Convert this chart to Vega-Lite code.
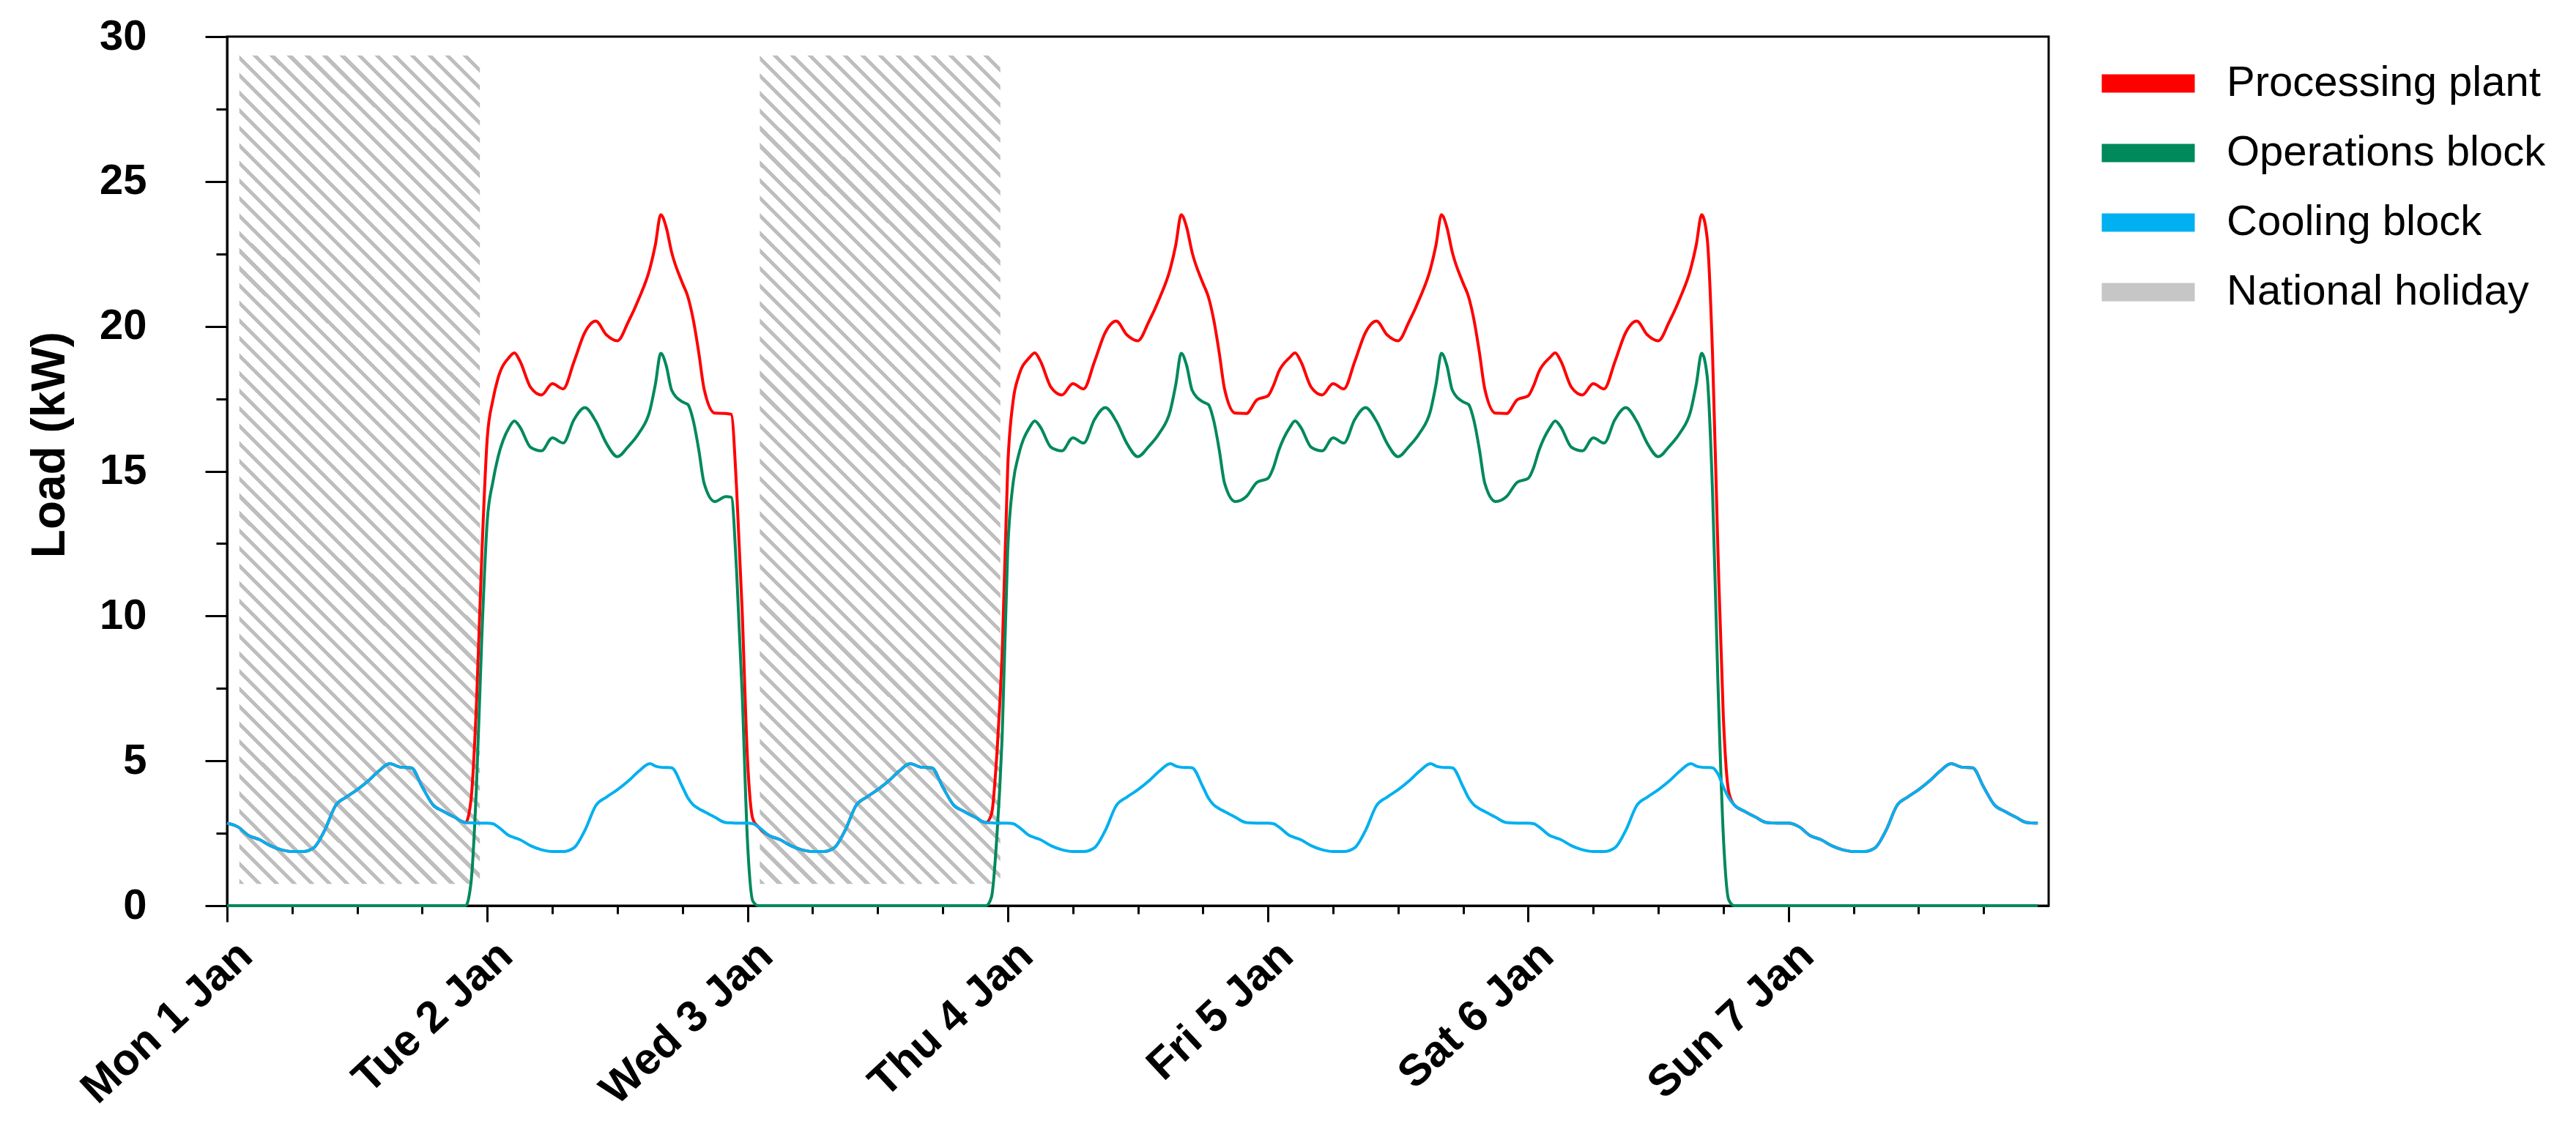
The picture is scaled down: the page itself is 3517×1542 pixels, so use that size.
{
  "$schema": "https://vega.github.io/schema/vega-lite/v6.json",
  "width": 2487,
  "height": 1187,
  "autosize": {"type": "none"},
  "padding": {"left": 310, "top": 50, "right": 720, "bottom": 305},
  "background": "white",
  "config": {
    "font": "Liberation Sans",
    "view": {"stroke": "black", "strokeWidth": 3},
    "axis": {
      "domainColor": "black",
      "domainWidth": 3,
      "tickColor": "black",
      "tickWidth": 3,
      "grid": false,
      "labelColor": "black",
      "titleColor": "black"
    }
  },
  "layer": [
    {
      "data": {
        "values": [
          {"start": "2018-01-01T01:08", "end": "2018-01-01T23:19", "lo": 0.75, "hi": 29.35},
          {"start": "2018-01-03T01:08", "end": "2018-01-03T23:19", "lo": 0.75, "hi": 29.35}
        ]
      },
      "mark": {
        "type": "rect",
        "fill": {
          "gradient": "linear",
          "x1": 0, "y1": 1, "x2": 0.3448, "y2": -0.1899,
          "stops": [
            {"offset":0,"color":"#bebebe"},{"offset":0.0049,"color":"#bebebe"},{"offset":0.0049,"color":"#ffffff"},{"offset":0.0164,"color":"#ffffff"},
            {"offset":0.0164,"color":"#bebebe"},{"offset":0.0213,"color":"#bebebe"},{"offset":0.0213,"color":"#ffffff"},{"offset":0.0328,"color":"#ffffff"},
            {"offset":0.0328,"color":"#bebebe"},{"offset":0.0377,"color":"#bebebe"},{"offset":0.0377,"color":"#ffffff"},{"offset":0.0492,"color":"#ffffff"},
            {"offset":0.0492,"color":"#bebebe"},{"offset":0.0541,"color":"#bebebe"},{"offset":0.0541,"color":"#ffffff"},{"offset":0.0656,"color":"#ffffff"},
            {"offset":0.0656,"color":"#bebebe"},{"offset":0.0705,"color":"#bebebe"},{"offset":0.0705,"color":"#ffffff"},{"offset":0.082,"color":"#ffffff"},
            {"offset":0.082,"color":"#bebebe"},{"offset":0.0869,"color":"#bebebe"},{"offset":0.0869,"color":"#ffffff"},{"offset":0.0984,"color":"#ffffff"},
            {"offset":0.0984,"color":"#bebebe"},{"offset":0.1033,"color":"#bebebe"},{"offset":0.1033,"color":"#ffffff"},{"offset":0.1148,"color":"#ffffff"},
            {"offset":0.1148,"color":"#bebebe"},{"offset":0.1197,"color":"#bebebe"},{"offset":0.1197,"color":"#ffffff"},{"offset":0.1311,"color":"#ffffff"},
            {"offset":0.1311,"color":"#bebebe"},{"offset":0.136,"color":"#bebebe"},{"offset":0.136,"color":"#ffffff"},{"offset":0.1475,"color":"#ffffff"},
            {"offset":0.1475,"color":"#bebebe"},{"offset":0.1524,"color":"#bebebe"},{"offset":0.1524,"color":"#ffffff"},{"offset":0.1639,"color":"#ffffff"},
            {"offset":0.1639,"color":"#bebebe"},{"offset":0.1688,"color":"#bebebe"},{"offset":0.1688,"color":"#ffffff"},{"offset":0.1803,"color":"#ffffff"},
            {"offset":0.1803,"color":"#bebebe"},{"offset":0.1852,"color":"#bebebe"},{"offset":0.1852,"color":"#ffffff"},{"offset":0.1967,"color":"#ffffff"},
            {"offset":0.1967,"color":"#bebebe"},{"offset":0.2016,"color":"#bebebe"},{"offset":0.2016,"color":"#ffffff"},{"offset":0.2131,"color":"#ffffff"},
            {"offset":0.2131,"color":"#bebebe"},{"offset":0.218,"color":"#bebebe"},{"offset":0.218,"color":"#ffffff"},{"offset":0.2295,"color":"#ffffff"},
            {"offset":0.2295,"color":"#bebebe"},{"offset":0.2344,"color":"#bebebe"},{"offset":0.2344,"color":"#ffffff"},{"offset":0.2459,"color":"#ffffff"},
            {"offset":0.2459,"color":"#bebebe"},{"offset":0.2508,"color":"#bebebe"},{"offset":0.2508,"color":"#ffffff"},{"offset":0.2623,"color":"#ffffff"},
            {"offset":0.2623,"color":"#bebebe"},{"offset":0.2672,"color":"#bebebe"},{"offset":0.2672,"color":"#ffffff"},{"offset":0.2787,"color":"#ffffff"},
            {"offset":0.2787,"color":"#bebebe"},{"offset":0.2836,"color":"#bebebe"},{"offset":0.2836,"color":"#ffffff"},{"offset":0.2951,"color":"#ffffff"},
            {"offset":0.2951,"color":"#bebebe"},{"offset":0.3,"color":"#bebebe"},{"offset":0.3,"color":"#ffffff"},{"offset":0.3115,"color":"#ffffff"},
            {"offset":0.3115,"color":"#bebebe"},{"offset":0.3164,"color":"#bebebe"},{"offset":0.3164,"color":"#ffffff"},{"offset":0.3279,"color":"#ffffff"},
            {"offset":0.3279,"color":"#bebebe"},{"offset":0.3328,"color":"#bebebe"},{"offset":0.3328,"color":"#ffffff"},{"offset":0.3443,"color":"#ffffff"},
            {"offset":0.3443,"color":"#bebebe"},{"offset":0.3492,"color":"#bebebe"},{"offset":0.3492,"color":"#ffffff"},{"offset":0.3607,"color":"#ffffff"},
            {"offset":0.3607,"color":"#bebebe"},{"offset":0.3656,"color":"#bebebe"},{"offset":0.3656,"color":"#ffffff"},{"offset":0.377,"color":"#ffffff"},
            {"offset":0.377,"color":"#bebebe"},{"offset":0.3819,"color":"#bebebe"},{"offset":0.3819,"color":"#ffffff"},{"offset":0.3934,"color":"#ffffff"},
            {"offset":0.3934,"color":"#bebebe"},{"offset":0.3983,"color":"#bebebe"},{"offset":0.3983,"color":"#ffffff"},{"offset":0.4098,"color":"#ffffff"},
            {"offset":0.4098,"color":"#bebebe"},{"offset":0.4147,"color":"#bebebe"},{"offset":0.4147,"color":"#ffffff"},{"offset":0.4262,"color":"#ffffff"},
            {"offset":0.4262,"color":"#bebebe"},{"offset":0.4311,"color":"#bebebe"},{"offset":0.4311,"color":"#ffffff"},{"offset":0.4426,"color":"#ffffff"},
            {"offset":0.4426,"color":"#bebebe"},{"offset":0.4475,"color":"#bebebe"},{"offset":0.4475,"color":"#ffffff"},{"offset":0.459,"color":"#ffffff"},
            {"offset":0.459,"color":"#bebebe"},{"offset":0.4639,"color":"#bebebe"},{"offset":0.4639,"color":"#ffffff"},{"offset":0.4754,"color":"#ffffff"},
            {"offset":0.4754,"color":"#bebebe"},{"offset":0.4803,"color":"#bebebe"},{"offset":0.4803,"color":"#ffffff"},{"offset":0.4918,"color":"#ffffff"},
            {"offset":0.4918,"color":"#bebebe"},{"offset":0.4967,"color":"#bebebe"},{"offset":0.4967,"color":"#ffffff"},{"offset":0.5082,"color":"#ffffff"},
            {"offset":0.5082,"color":"#bebebe"},{"offset":0.5131,"color":"#bebebe"},{"offset":0.5131,"color":"#ffffff"},{"offset":0.5246,"color":"#ffffff"},
            {"offset":0.5246,"color":"#bebebe"},{"offset":0.5295,"color":"#bebebe"},{"offset":0.5295,"color":"#ffffff"},{"offset":0.541,"color":"#ffffff"},
            {"offset":0.541,"color":"#bebebe"},{"offset":0.5459,"color":"#bebebe"},{"offset":0.5459,"color":"#ffffff"},{"offset":0.5574,"color":"#ffffff"},
            {"offset":0.5574,"color":"#bebebe"},{"offset":0.5623,"color":"#bebebe"},{"offset":0.5623,"color":"#ffffff"},{"offset":0.5738,"color":"#ffffff"},
            {"offset":0.5738,"color":"#bebebe"},{"offset":0.5787,"color":"#bebebe"},{"offset":0.5787,"color":"#ffffff"},{"offset":0.5902,"color":"#ffffff"},
            {"offset":0.5902,"color":"#bebebe"},{"offset":0.5951,"color":"#bebebe"},{"offset":0.5951,"color":"#ffffff"},{"offset":0.6066,"color":"#ffffff"},
            {"offset":0.6066,"color":"#bebebe"},{"offset":0.6115,"color":"#bebebe"},{"offset":0.6115,"color":"#ffffff"},{"offset":0.623,"color":"#ffffff"},
            {"offset":0.623,"color":"#bebebe"},{"offset":0.6279,"color":"#bebebe"},{"offset":0.6279,"color":"#ffffff"},{"offset":0.6393,"color":"#ffffff"},
            {"offset":0.6393,"color":"#bebebe"},{"offset":0.6442,"color":"#bebebe"},{"offset":0.6442,"color":"#ffffff"},{"offset":0.6557,"color":"#ffffff"},
            {"offset":0.6557,"color":"#bebebe"},{"offset":0.6606,"color":"#bebebe"},{"offset":0.6606,"color":"#ffffff"},{"offset":0.6721,"color":"#ffffff"},
            {"offset":0.6721,"color":"#bebebe"},{"offset":0.677,"color":"#bebebe"},{"offset":0.677,"color":"#ffffff"},{"offset":0.6885,"color":"#ffffff"},
            {"offset":0.6885,"color":"#bebebe"},{"offset":0.6934,"color":"#bebebe"},{"offset":0.6934,"color":"#ffffff"},{"offset":0.7049,"color":"#ffffff"},
            {"offset":0.7049,"color":"#bebebe"},{"offset":0.7098,"color":"#bebebe"},{"offset":0.7098,"color":"#ffffff"},{"offset":0.7213,"color":"#ffffff"},
            {"offset":0.7213,"color":"#bebebe"},{"offset":0.7262,"color":"#bebebe"},{"offset":0.7262,"color":"#ffffff"},{"offset":0.7377,"color":"#ffffff"},
            {"offset":0.7377,"color":"#bebebe"},{"offset":0.7426,"color":"#bebebe"},{"offset":0.7426,"color":"#ffffff"},{"offset":0.7541,"color":"#ffffff"},
            {"offset":0.7541,"color":"#bebebe"},{"offset":0.759,"color":"#bebebe"},{"offset":0.759,"color":"#ffffff"},{"offset":0.7705,"color":"#ffffff"},
            {"offset":0.7705,"color":"#bebebe"},{"offset":0.7754,"color":"#bebebe"},{"offset":0.7754,"color":"#ffffff"},{"offset":0.7869,"color":"#ffffff"},
            {"offset":0.7869,"color":"#bebebe"},{"offset":0.7918,"color":"#bebebe"},{"offset":0.7918,"color":"#ffffff"},{"offset":0.8033,"color":"#ffffff"},
            {"offset":0.8033,"color":"#bebebe"},{"offset":0.8082,"color":"#bebebe"},{"offset":0.8082,"color":"#ffffff"},{"offset":0.8197,"color":"#ffffff"},
            {"offset":0.8197,"color":"#bebebe"},{"offset":0.8246,"color":"#bebebe"},{"offset":0.8246,"color":"#ffffff"},{"offset":0.8361,"color":"#ffffff"},
            {"offset":0.8361,"color":"#bebebe"},{"offset":0.841,"color":"#bebebe"},{"offset":0.841,"color":"#ffffff"},{"offset":0.8525,"color":"#ffffff"},
            {"offset":0.8525,"color":"#bebebe"},{"offset":0.8574,"color":"#bebebe"},{"offset":0.8574,"color":"#ffffff"},{"offset":0.8689,"color":"#ffffff"},
            {"offset":0.8689,"color":"#bebebe"},{"offset":0.8738,"color":"#bebebe"},{"offset":0.8738,"color":"#ffffff"},{"offset":0.8852,"color":"#ffffff"},
            {"offset":0.8852,"color":"#bebebe"},{"offset":0.8901,"color":"#bebebe"},{"offset":0.8901,"color":"#ffffff"},{"offset":0.9016,"color":"#ffffff"},
            {"offset":0.9016,"color":"#bebebe"},{"offset":0.9065,"color":"#bebebe"},{"offset":0.9065,"color":"#ffffff"},{"offset":0.918,"color":"#ffffff"},
            {"offset":0.918,"color":"#bebebe"},{"offset":0.9229,"color":"#bebebe"},{"offset":0.9229,"color":"#ffffff"},{"offset":0.9344,"color":"#ffffff"},
            {"offset":0.9344,"color":"#bebebe"},{"offset":0.9393,"color":"#bebebe"},{"offset":0.9393,"color":"#ffffff"},{"offset":0.9508,"color":"#ffffff"},
            {"offset":0.9508,"color":"#bebebe"},{"offset":0.9557,"color":"#bebebe"},{"offset":0.9557,"color":"#ffffff"},{"offset":0.9672,"color":"#ffffff"},
            {"offset":0.9672,"color":"#bebebe"},{"offset":0.9721,"color":"#bebebe"},{"offset":0.9721,"color":"#ffffff"},{"offset":0.9836,"color":"#ffffff"},
            {"offset":0.9836,"color":"#bebebe"},{"offset":0.9885,"color":"#bebebe"},{"offset":0.9885,"color":"#ffffff"},{"offset":1,"color":"#ffffff"}
          ]
        }
      },
      "encoding": {
        "x": {
          "field": "start",
          "type": "temporal",
          "title": null,
          "scale": {"domain": [{"year": 2018, "month": 1, "date": 1}, {"year": 2018, "month": 1, "date": 8}]},
          "axis": {
            "orient": "bottom",
            "values": [
              {"year": 2018, "month": 1, "date": 1, "hours": 6}, {"year": 2018, "month": 1, "date": 1, "hours": 12}, {"year": 2018, "month": 1, "date": 1, "hours": 18},
              {"year": 2018, "month": 1, "date": 2, "hours": 6}, {"year": 2018, "month": 1, "date": 2, "hours": 12}, {"year": 2018, "month": 1, "date": 2, "hours": 18},
              {"year": 2018, "month": 1, "date": 3, "hours": 6}, {"year": 2018, "month": 1, "date": 3, "hours": 12}, {"year": 2018, "month": 1, "date": 3, "hours": 18},
              {"year": 2018, "month": 1, "date": 4, "hours": 6}, {"year": 2018, "month": 1, "date": 4, "hours": 12}, {"year": 2018, "month": 1, "date": 4, "hours": 18},
              {"year": 2018, "month": 1, "date": 5, "hours": 6}, {"year": 2018, "month": 1, "date": 5, "hours": 12}, {"year": 2018, "month": 1, "date": 5, "hours": 18},
              {"year": 2018, "month": 1, "date": 6, "hours": 6}, {"year": 2018, "month": 1, "date": 6, "hours": 12}, {"year": 2018, "month": 1, "date": 6, "hours": 18},
              {"year": 2018, "month": 1, "date": 7, "hours": 6}, {"year": 2018, "month": 1, "date": 7, "hours": 12}, {"year": 2018, "month": 1, "date": 7, "hours": 18}
            ],
            "labels": false,
            "domain": false,
            "tickSize": 11,
            "title": null,
            "grid": false
          }
        },
        "x2": {"field": "end"},
        "y": {
          "field": "lo",
          "type": "quantitative",
          "title": null,
          "scale": {"domain": [0, 30], "nice": false},
          "axis": {"orient": "left", "values": [2.5, 7.5, 12.5, 17.5, 22.5, 27.5], "labels": false, "domain": false, "tickSize": 15, "title": null, "grid": false}
        },
        "y2": {"field": "hi"}
      }
    },
    {
      "data": {
        "values": [
          {"t":"2018-01-01T00:00","plant":2.85,"ops":0,"cool":2.85},
          {"t":"2018-01-01T01:00","plant":2.72,"ops":0,"cool":2.72},
          {"t":"2018-01-01T02:00","plant":2.42,"ops":0,"cool":2.42},
          {"t":"2018-01-01T03:00","plant":2.28,"ops":0,"cool":2.28},
          {"t":"2018-01-01T04:00","plant":2.07,"ops":0,"cool":2.07},
          {"t":"2018-01-01T05:00","plant":1.93,"ops":0,"cool":1.93},
          {"t":"2018-01-01T06:00","plant":1.87,"ops":0,"cool":1.87},
          {"t":"2018-01-01T07:00","plant":1.87,"ops":0,"cool":1.87},
          {"t":"2018-01-01T08:00","plant":2.0,"ops":0,"cool":2.0},
          {"t":"2018-01-01T09:00","plant":2.6,"ops":0,"cool":2.6},
          {"t":"2018-01-01T10:00","plant":3.45,"ops":0,"cool":3.45},
          {"t":"2018-01-01T11:00","plant":3.75,"ops":0,"cool":3.75},
          {"t":"2018-01-01T12:00","plant":4.0,"ops":0,"cool":4.0},
          {"t":"2018-01-01T13:00","plant":4.3,"ops":0,"cool":4.3},
          {"t":"2018-01-01T14:00","plant":4.65,"ops":0,"cool":4.65},
          {"t":"2018-01-01T15:00","plant":4.9,"ops":0,"cool":4.9},
          {"t":"2018-01-01T16:00","plant":4.78,"ops":0,"cool":4.78},
          {"t":"2018-01-01T17:00","plant":4.76,"ops":0,"cool":4.76},
          {"t":"2018-01-01T18:00","plant":4.1,"ops":0,"cool":4.1},
          {"t":"2018-01-01T19:00","plant":3.48,"ops":0,"cool":3.48},
          {"t":"2018-01-01T20:00","plant":3.25,"ops":0,"cool":3.25},
          {"t":"2018-01-01T21:00","plant":3.05,"ops":0,"cool":3.05},
          {"t":"2018-01-01T22:00","plant":2.87,"ops":0,"cool":2.87},
          {"t":"2018-01-01T22:30","plant":3.66,"ops":0.8,"cool":2.86},
          {"t":"2018-01-01T23:00","plant":6.95,"ops":4.1,"cool":2.85},
          {"t":"2018-01-01T23:30","plant":12.15,"ops":9.3,"cool":2.85},
          {"t":"2018-01-02T00:00","plant":16.15,"ops":13.3,"cool":2.85},
          {"t":"2018-01-02T00:30","plant":17.43,"ops":14.6,"cool":2.83},
          {"t":"2018-01-02T01:00","plant":18.22,"ops":15.5,"cool":2.72},
          {"t":"2018-01-02T02:00","plant":18.92,"ops":16.5,"cool":2.42},
          {"t":"2018-01-02T02:30","plant":19.08,"ops":16.73,"cool":2.35},
          {"t":"2018-01-02T03:00","plant":18.81,"ops":16.53,"cool":2.28},
          {"t":"2018-01-02T04:00","plant":17.89,"ops":15.82,"cool":2.07},
          {"t":"2018-01-02T05:00","plant":17.63,"ops":15.7,"cool":1.93},
          {"t":"2018-01-02T06:00","plant":18.02,"ops":16.15,"cool":1.87},
          {"t":"2018-01-02T07:00","plant":17.84,"ops":15.97,"cool":1.87},
          {"t":"2018-01-02T08:00","plant":18.78,"ops":16.78,"cool":2.0},
          {"t":"2018-01-02T09:00","plant":19.79,"ops":17.19,"cool":2.6},
          {"t":"2018-01-02T10:00","plant":20.18,"ops":16.73,"cool":3.45},
          {"t":"2018-01-02T11:00","plant":19.7,"ops":15.95,"cool":3.75},
          {"t":"2018-01-02T12:00","plant":19.5,"ops":15.5,"cool":4.0},
          {"t":"2018-01-02T13:00","plant":20.15,"ops":15.85,"cool":4.3},
          {"t":"2018-01-02T14:00","plant":20.97,"ops":16.32,"cool":4.65},
          {"t":"2018-01-02T15:00","plant":22.0,"ops":17.1,"cool":4.9},
          {"t":"2018-01-02T15:30","plant":22.81,"ops":17.99,"cool":4.82},
          {"t":"2018-01-02T16:00","plant":23.85,"ops":19.07,"cool":4.78},
          {"t":"2018-01-02T16:30","plant":23.42,"ops":18.65,"cool":4.77},
          {"t":"2018-01-02T17:00","plant":22.56,"ops":17.8,"cool":4.76},
          {"t":"2018-01-02T18:00","plant":21.49,"ops":17.39,"cool":4.1},
          {"t":"2018-01-02T18:30","plant":21.02,"ops":17.3,"cool":3.72},
          {"t":"2018-01-02T19:00","plant":20.22,"ops":16.74,"cool":3.48},
          {"t":"2018-01-02T19:30","plant":19.1,"ops":15.75,"cool":3.35},
          {"t":"2018-01-02T20:00","plant":17.83,"ops":14.58,"cool":3.25},
          {"t":"2018-01-02T21:00","plant":17.0,"ops":13.95,"cool":3.05},
          {"t":"2018-01-02T22:00","plant":16.99,"ops":14.12,"cool":2.87},
          {"t":"2018-01-02T22:30","plant":16.96,"ops":14.1,"cool":2.86},
          {"t":"2018-01-02T23:00","plant":14.35,"ops":11.5,"cool":2.85},
          {"t":"2018-01-02T23:30","plant":10.25,"ops":7.4,"cool":2.85},
          {"t":"2018-01-03T00:00","plant":5.05,"ops":2.2,"cool":2.85},
          {"t":"2018-01-03T00:30","plant":2.98,"ops":0.15,"cool":2.83},
          {"t":"2018-01-03T01:00","plant":2.72,"ops":0,"cool":2.72},
          {"t":"2018-01-03T02:00","plant":2.42,"ops":0,"cool":2.42},
          {"t":"2018-01-03T03:00","plant":2.28,"ops":0,"cool":2.28},
          {"t":"2018-01-03T04:00","plant":2.07,"ops":0,"cool":2.07},
          {"t":"2018-01-03T05:00","plant":1.93,"ops":0,"cool":1.93},
          {"t":"2018-01-03T06:00","plant":1.87,"ops":0,"cool":1.87},
          {"t":"2018-01-03T07:00","plant":1.87,"ops":0,"cool":1.87},
          {"t":"2018-01-03T08:00","plant":2.0,"ops":0,"cool":2.0},
          {"t":"2018-01-03T09:00","plant":2.6,"ops":0,"cool":2.6},
          {"t":"2018-01-03T10:00","plant":3.45,"ops":0,"cool":3.45},
          {"t":"2018-01-03T11:00","plant":3.75,"ops":0,"cool":3.75},
          {"t":"2018-01-03T12:00","plant":4.0,"ops":0,"cool":4.0},
          {"t":"2018-01-03T13:00","plant":4.3,"ops":0,"cool":4.3},
          {"t":"2018-01-03T14:00","plant":4.65,"ops":0,"cool":4.65},
          {"t":"2018-01-03T15:00","plant":4.9,"ops":0,"cool":4.9},
          {"t":"2018-01-03T16:00","plant":4.78,"ops":0,"cool":4.78},
          {"t":"2018-01-03T17:00","plant":4.76,"ops":0,"cool":4.76},
          {"t":"2018-01-03T18:00","plant":4.1,"ops":0,"cool":4.1},
          {"t":"2018-01-03T19:00","plant":3.48,"ops":0,"cool":3.48},
          {"t":"2018-01-03T20:00","plant":3.25,"ops":0,"cool":3.25},
          {"t":"2018-01-03T21:00","plant":3.05,"ops":0,"cool":3.05},
          {"t":"2018-01-03T22:00","plant":2.87,"ops":0,"cool":2.87},
          {"t":"2018-01-03T22:30","plant":3.16,"ops":0.3,"cool":2.86},
          {"t":"2018-01-03T23:00","plant":5.25,"ops":2.4,"cool":2.85},
          {"t":"2018-01-03T23:30","plant":8.85,"ops":6.0,"cool":2.85},
          {"t":"2018-01-04T00:00","plant":15.15,"ops":12.3,"cool":2.85},
          {"t":"2018-01-04T00:30","plant":17.43,"ops":14.6,"cool":2.83},
          {"t":"2018-01-04T01:00","plant":18.27,"ops":15.55,"cool":2.72},
          {"t":"2018-01-04T02:00","plant":18.92,"ops":16.5,"cool":2.42},
          {"t":"2018-01-04T02:30","plant":19.08,"ops":16.73,"cool":2.35},
          {"t":"2018-01-04T03:00","plant":18.81,"ops":16.53,"cool":2.28},
          {"t":"2018-01-04T04:00","plant":17.89,"ops":15.82,"cool":2.07},
          {"t":"2018-01-04T05:00","plant":17.63,"ops":15.7,"cool":1.93},
          {"t":"2018-01-04T06:00","plant":18.02,"ops":16.15,"cool":1.87},
          {"t":"2018-01-04T07:00","plant":17.84,"ops":15.97,"cool":1.87},
          {"t":"2018-01-04T08:00","plant":18.78,"ops":16.78,"cool":2.0},
          {"t":"2018-01-04T09:00","plant":19.79,"ops":17.19,"cool":2.6},
          {"t":"2018-01-04T10:00","plant":20.18,"ops":16.73,"cool":3.45},
          {"t":"2018-01-04T11:00","plant":19.7,"ops":15.95,"cool":3.75},
          {"t":"2018-01-04T12:00","plant":19.5,"ops":15.5,"cool":4.0},
          {"t":"2018-01-04T13:00","plant":20.15,"ops":15.85,"cool":4.3},
          {"t":"2018-01-04T14:00","plant":20.97,"ops":16.32,"cool":4.65},
          {"t":"2018-01-04T15:00","plant":22.0,"ops":17.1,"cool":4.9},
          {"t":"2018-01-04T15:30","plant":22.81,"ops":17.99,"cool":4.82},
          {"t":"2018-01-04T16:00","plant":23.85,"ops":19.07,"cool":4.78},
          {"t":"2018-01-04T16:30","plant":23.42,"ops":18.65,"cool":4.77},
          {"t":"2018-01-04T17:00","plant":22.56,"ops":17.8,"cool":4.76},
          {"t":"2018-01-04T18:00","plant":21.49,"ops":17.39,"cool":4.1},
          {"t":"2018-01-04T18:30","plant":21.02,"ops":17.3,"cool":3.72},
          {"t":"2018-01-04T19:00","plant":20.22,"ops":16.74,"cool":3.48},
          {"t":"2018-01-04T19:30","plant":19.1,"ops":15.75,"cool":3.35},
          {"t":"2018-01-04T20:00","plant":17.83,"ops":14.58,"cool":3.25},
          {"t":"2018-01-04T21:00","plant":17.0,"ops":13.95,"cool":3.05},
          {"t":"2018-01-04T22:00","plant":16.99,"ops":14.12,"cool":2.87},
          {"t":"2018-01-04T23:00","plant":17.47,"ops":14.62,"cool":2.85},
          {"t":"2018-01-05T00:00","plant":17.6,"ops":14.75,"cool":2.85},
          {"t":"2018-01-05T00:30","plant":17.95,"ops":15.12,"cool":2.83},
          {"t":"2018-01-05T01:00","plant":18.44,"ops":15.72,"cool":2.72},
          {"t":"2018-01-05T02:00","plant":18.92,"ops":16.5,"cool":2.42},
          {"t":"2018-01-05T02:30","plant":19.08,"ops":16.73,"cool":2.35},
          {"t":"2018-01-05T03:00","plant":18.81,"ops":16.53,"cool":2.28},
          {"t":"2018-01-05T04:00","plant":17.89,"ops":15.82,"cool":2.07},
          {"t":"2018-01-05T05:00","plant":17.63,"ops":15.7,"cool":1.93},
          {"t":"2018-01-05T06:00","plant":18.02,"ops":16.15,"cool":1.87},
          {"t":"2018-01-05T07:00","plant":17.84,"ops":15.97,"cool":1.87},
          {"t":"2018-01-05T08:00","plant":18.78,"ops":16.78,"cool":2.0},
          {"t":"2018-01-05T09:00","plant":19.79,"ops":17.19,"cool":2.6},
          {"t":"2018-01-05T10:00","plant":20.18,"ops":16.73,"cool":3.45},
          {"t":"2018-01-05T11:00","plant":19.7,"ops":15.95,"cool":3.75},
          {"t":"2018-01-05T12:00","plant":19.5,"ops":15.5,"cool":4.0},
          {"t":"2018-01-05T13:00","plant":20.15,"ops":15.85,"cool":4.3},
          {"t":"2018-01-05T14:00","plant":20.97,"ops":16.32,"cool":4.65},
          {"t":"2018-01-05T15:00","plant":22.0,"ops":17.1,"cool":4.9},
          {"t":"2018-01-05T15:30","plant":22.81,"ops":17.99,"cool":4.82},
          {"t":"2018-01-05T16:00","plant":23.85,"ops":19.07,"cool":4.78},
          {"t":"2018-01-05T16:30","plant":23.42,"ops":18.65,"cool":4.77},
          {"t":"2018-01-05T17:00","plant":22.56,"ops":17.8,"cool":4.76},
          {"t":"2018-01-05T18:00","plant":21.49,"ops":17.39,"cool":4.1},
          {"t":"2018-01-05T18:30","plant":21.02,"ops":17.3,"cool":3.72},
          {"t":"2018-01-05T19:00","plant":20.22,"ops":16.74,"cool":3.48},
          {"t":"2018-01-05T19:30","plant":19.1,"ops":15.75,"cool":3.35},
          {"t":"2018-01-05T20:00","plant":17.83,"ops":14.58,"cool":3.25},
          {"t":"2018-01-05T21:00","plant":17.0,"ops":13.95,"cool":3.05},
          {"t":"2018-01-05T22:00","plant":16.99,"ops":14.12,"cool":2.87},
          {"t":"2018-01-05T23:00","plant":17.47,"ops":14.62,"cool":2.85},
          {"t":"2018-01-06T00:00","plant":17.6,"ops":14.75,"cool":2.85},
          {"t":"2018-01-06T00:30","plant":17.95,"ops":15.12,"cool":2.83},
          {"t":"2018-01-06T01:00","plant":18.44,"ops":15.72,"cool":2.72},
          {"t":"2018-01-06T02:00","plant":18.92,"ops":16.5,"cool":2.42},
          {"t":"2018-01-06T02:30","plant":19.08,"ops":16.73,"cool":2.35},
          {"t":"2018-01-06T03:00","plant":18.81,"ops":16.53,"cool":2.28},
          {"t":"2018-01-06T04:00","plant":17.89,"ops":15.82,"cool":2.07},
          {"t":"2018-01-06T05:00","plant":17.63,"ops":15.7,"cool":1.93},
          {"t":"2018-01-06T06:00","plant":18.02,"ops":16.15,"cool":1.87},
          {"t":"2018-01-06T07:00","plant":17.84,"ops":15.97,"cool":1.87},
          {"t":"2018-01-06T08:00","plant":18.78,"ops":16.78,"cool":2.0},
          {"t":"2018-01-06T09:00","plant":19.79,"ops":17.19,"cool":2.6},
          {"t":"2018-01-06T10:00","plant":20.18,"ops":16.73,"cool":3.45},
          {"t":"2018-01-06T11:00","plant":19.7,"ops":15.95,"cool":3.75},
          {"t":"2018-01-06T12:00","plant":19.5,"ops":15.5,"cool":4.0},
          {"t":"2018-01-06T13:00","plant":20.15,"ops":15.85,"cool":4.3},
          {"t":"2018-01-06T14:00","plant":20.97,"ops":16.32,"cool":4.65},
          {"t":"2018-01-06T15:00","plant":22.0,"ops":17.1,"cool":4.9},
          {"t":"2018-01-06T15:30","plant":22.81,"ops":17.99,"cool":4.82},
          {"t":"2018-01-06T16:00","plant":23.85,"ops":19.07,"cool":4.78},
          {"t":"2018-01-06T16:30","plant":23.07,"ops":18.3,"cool":4.77},
          {"t":"2018-01-06T17:00","plant":19.06,"ops":14.3,"cool":4.76},
          {"t":"2018-01-06T17:30","plant":12.25,"ops":7.7,"cool":4.55},
          {"t":"2018-01-06T18:00","plant":6.5,"ops":2.4,"cool":4.1},
          {"t":"2018-01-06T18:30","plant":3.92,"ops":0.2,"cool":3.72},
          {"t":"2018-01-06T19:00","plant":3.48,"ops":0,"cool":3.48},
          {"t":"2018-01-06T20:00","plant":3.25,"ops":0,"cool":3.25},
          {"t":"2018-01-06T21:00","plant":3.05,"ops":0,"cool":3.05},
          {"t":"2018-01-06T22:00","plant":2.87,"ops":0,"cool":2.87},
          {"t":"2018-01-06T23:00","plant":2.85,"ops":0,"cool":2.85},
          {"t":"2018-01-07T00:00","plant":2.85,"ops":0,"cool":2.85},
          {"t":"2018-01-07T01:00","plant":2.72,"ops":0,"cool":2.72},
          {"t":"2018-01-07T02:00","plant":2.42,"ops":0,"cool":2.42},
          {"t":"2018-01-07T03:00","plant":2.28,"ops":0,"cool":2.28},
          {"t":"2018-01-07T04:00","plant":2.07,"ops":0,"cool":2.07},
          {"t":"2018-01-07T05:00","plant":1.93,"ops":0,"cool":1.93},
          {"t":"2018-01-07T06:00","plant":1.87,"ops":0,"cool":1.87},
          {"t":"2018-01-07T07:00","plant":1.87,"ops":0,"cool":1.87},
          {"t":"2018-01-07T08:00","plant":2.0,"ops":0,"cool":2.0},
          {"t":"2018-01-07T09:00","plant":2.6,"ops":0,"cool":2.6},
          {"t":"2018-01-07T10:00","plant":3.45,"ops":0,"cool":3.45},
          {"t":"2018-01-07T11:00","plant":3.75,"ops":0,"cool":3.75},
          {"t":"2018-01-07T12:00","plant":4.0,"ops":0,"cool":4.0},
          {"t":"2018-01-07T13:00","plant":4.3,"ops":0,"cool":4.3},
          {"t":"2018-01-07T14:00","plant":4.65,"ops":0,"cool":4.65},
          {"t":"2018-01-07T15:00","plant":4.9,"ops":0,"cool":4.9},
          {"t":"2018-01-07T16:00","plant":4.78,"ops":0,"cool":4.78},
          {"t":"2018-01-07T17:00","plant":4.76,"ops":0,"cool":4.76},
          {"t":"2018-01-07T18:00","plant":4.1,"ops":0,"cool":4.1},
          {"t":"2018-01-07T19:00","plant":3.48,"ops":0,"cool":3.48},
          {"t":"2018-01-07T20:00","plant":3.25,"ops":0,"cool":3.25},
          {"t":"2018-01-07T21:00","plant":3.05,"ops":0,"cool":3.05},
          {"t":"2018-01-07T22:00","plant":2.87,"ops":0,"cool":2.87},
          {"t":"2018-01-07T23:00","plant":2.85,"ops":0,"cool":2.85}
        ]
      },
      "layer": [
        {
          "mark": {"type": "line", "interpolate": "monotone", "strokeWidth": 4},
          "encoding": {
            "x": {
              "field": "t",
              "type": "temporal",
              "title": null,
              "axis": {
                "orient": "bottom",
                "values": [
                  {"year": 2018, "month": 1, "date": 1},
                  {"year": 2018, "month": 1, "date": 2},
                  {"year": 2018, "month": 1, "date": 3},
                  {"year": 2018, "month": 1, "date": 4},
                  {"year": 2018, "month": 1, "date": 5},
                  {"year": 2018, "month": 1, "date": 6},
                  {"year": 2018, "month": 1, "date": 7}
                ],
                "format": "%a %-d %b",
                "tickSize": 22,
                "labelFontSize": 60,
                "labelFontWeight": "bold",
                "labelAngle": -43,
                "labelAlign": "right",
                "labelBaseline": "middle",
                "labelPadding": 37,
                "labelOffset": 25,
                "labelLimit": 1000,
                "labelOverlap": false,
                "labelFlush": false,
                "title": null,
                "grid": false
              }
            },
            "y": {
              "field": "plant",
              "type": "quantitative",
              "title": "Load (kW)",
              "axis": {
                "orient": "left",
                "values": [0, 5, 10, 15, 20, 25, 30],
                "tickSize": 30,
                "labelFontSize": 58,
                "labelFontWeight": "bold",
                "labelPadding": 80,
                "titleFontSize": 64,
                "titleFontWeight": "bold",
                "titleX": -223,
                "titleY": 557,
                "titleBaseline": "alphabetic",
                "titleAngle": -90,
                "titleAlign": "center",
                "grid": false
              }
            },
            "color": {
              "datum": "Processing plant",
              "type": "nominal",
              "scale": {
                "domain": ["Processing plant", "\u00a0Operations block", "Cooling block", "\u00a0National holiday"],
                "range": ["#ff0000", "#00895a", "#00b0f0", "#c6c6c6"]
              },
              "legend": {
                "orient": "none",
                "legendX": 2594,
                "legendY": 35,
                "direction": "vertical",
                "title": null,
                "padding": 0,
                "symbolType": "M-4,0H4",
                "symbolSize": 1008,
                "symbolStrokeWidth": 25,
                "labelFontSize": 58,
                "labelColor": "black",
                "labelOffset": 78,
                "labelLimit": 1000,
                "rowPadding": -5
              }
            }
          }
        },
        {
          "mark": {"type": "line", "interpolate": "monotone", "strokeWidth": 4},
          "encoding": {
            "x": {"field": "t", "type": "temporal"},
            "y": {"field": "ops", "type": "quantitative"},
            "color": {"datum": "\u00a0Operations block", "type": "nominal"}
          }
        },
        {
          "mark": {"type": "line", "interpolate": "monotone", "strokeWidth": 4},
          "encoding": {
            "x": {"field": "t", "type": "temporal"},
            "y": {"field": "cool", "type": "quantitative"},
            "color": {"datum": "Cooling block", "type": "nominal"}
          }
        }
      ]
    }
  ],
  "resolve": {"axis": {"x": "independent", "y": "independent"}}
}
